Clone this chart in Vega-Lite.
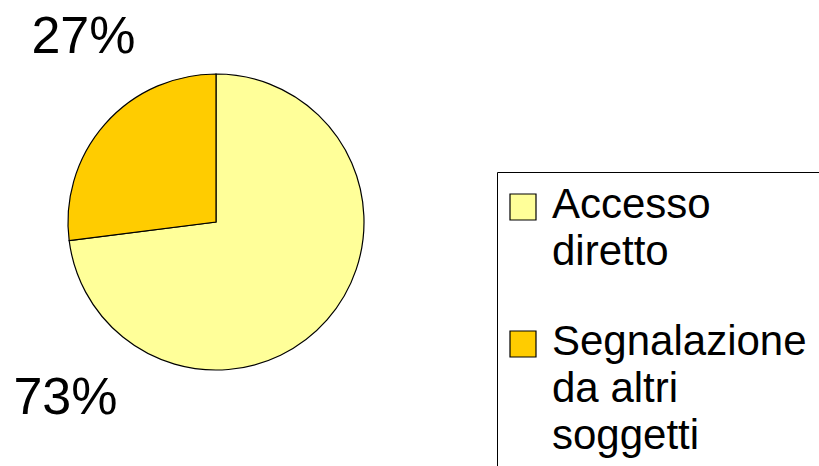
{
  "$schema": "https://vega.github.io/schema/vega-lite/v6.json",
  "width": 432,
  "height": 444,
  "autosize": {"type": "none"},
  "padding": {"left": 0, "top": 0, "right": 387, "bottom": 22},
  "background": "white",
  "view": {"stroke": null},
  "config": {
    "font": "Liberation Sans",
    "style": {"guide-label": {"lineHeight": 47, "dy": 11}}
  },
  "data": {
    "values": [
      {"cat": "Accesso diretto", "pct": 73, "label": "73%"},
      {"cat": "Segnalazione da altri soggetti", "pct": 27, "label": "27%"}
    ]
  },
  "layer": [
    {
      "mark": {"type": "arc", "outerRadius": 148, "stroke": "black", "strokeWidth": 1.2},
      "encoding": {
        "theta": {"field": "pct", "type": "quantitative", "stack": true},
        "color": {
          "field": "cat",
          "type": "nominal",
          "scale": {"domain": ["Accesso diretto", "Segnalazione da altri soggetti"], "range": ["#FFFF99", "#FFCC00"]},
          "legend": {
            "orient": "none",
            "legendX": 497,
            "legendY": 172,
            "title": null,
            "strokeColor": "black",
            "padding": 14,
            "symbolType": "square",
            "symbolSize": 676,
            "symbolOffset": -9,
            "symbolStrokeColor": "black",
            "symbolStrokeWidth": 1.2,
            "labelFontSize": 42,
            "labelFont": "Liberation Sans",
            "labelColor": "black",
            "labelLimit": 0,
            "labelOffset": 8,
            "labelBaseline": "alphabetic",
            "rowPadding": 48,
            "labelExpr": "datum.label == 'Accesso diretto' ? ['Accesso', 'diretto'] : ['Segnalazione', 'da altri', 'soggetti']"
          }
        }
      }
    },
    {
      "mark": {"type": "text", "radius": 230, "fontSize": 52, "font": "Liberation Sans", "align": "center", "baseline": "middle", "dx": 40, "dy": -33},
      "encoding": {
        "theta": {"field": "pct", "type": "quantitative", "stack": true},
        "order": {"field": "cat", "sort": "ascending"},
        "text": {"field": "label"},
        "opacity": {"condition": {"test": "datum.cat == 'Segnalazione da altri soggetti'", "value": 1}, "value": 0}
      }
    },
    {
      "mark": {"type": "text", "radius": 230, "fontSize": 52, "font": "Liberation Sans", "align": "center", "baseline": "middle", "dx": 22, "dy": 24},
      "encoding": {
        "theta": {"field": "pct", "type": "quantitative", "stack": true},
        "order": {"field": "cat", "sort": "descending"},
        "text": {"field": "label"},
        "opacity": {"condition": {"test": "datum.cat == 'Accesso diretto'", "value": 1}, "value": 0}
      }
    }
  ]
}
